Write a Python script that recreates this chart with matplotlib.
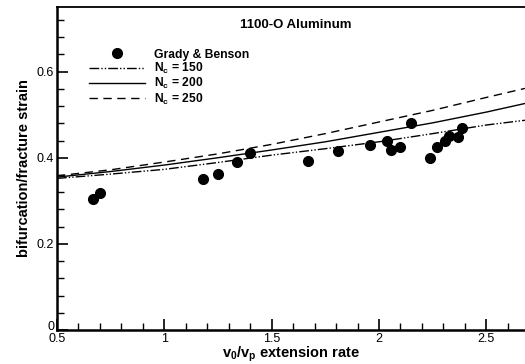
import matplotlib
matplotlib.use('Agg')
import matplotlib.pyplot as plt
from matplotlib.ticker import MultipleLocator

plt.rcParams['font.family'] = ['Liberation Sans', 'DejaVu Sans']
plt.rcParams['mathtext.fontset'] = 'custom'
plt.rcParams['mathtext.rm'] = 'Liberation Sans'
plt.rcParams['mathtext.bf'] = 'Liberation Sans:bold'

# Grady & Benson data
exp_x = [0.669, 0.700, 1.179, 1.249, 1.339, 1.398, 1.667, 1.809, 1.958, 2.037,
         2.057, 2.098, 2.149, 2.239, 2.268, 2.307, 2.327, 2.369, 2.388]
exp_y = [0.305, 0.317, 0.351, 0.362, 0.390, 0.410, 0.392, 0.415, 0.429, 0.439,
         0.419, 0.424, 0.480, 0.399, 0.426, 0.440, 0.450, 0.448, 0.469]

# model curves
curve_x = [0.5, 0.75, 1.0, 1.25, 1.5, 1.75, 2.0, 2.25, 2.5, 2.68]
nc150 = [0.352, 0.362, 0.373, 0.389, 0.406, 0.421, 0.437, 0.456, 0.476, 0.487]
nc200 = [0.355, 0.368, 0.383, 0.400, 0.418, 0.437, 0.459, 0.481, 0.506, 0.526]
nc250 = [0.358, 0.372, 0.390, 0.409, 0.431, 0.456, 0.483, 0.510, 0.540, 0.561]

fig = plt.figure(figsize=(5.25, 3.64), dpi=100)
ax = fig.add_axes([57/525, 34/364, 468/525, 323/364])

ax.plot(exp_x, exp_y, 'o', color='black', markersize=7, label='Grady & Benson', clip_on=False)
ax.plot(curve_x, nc150, color='black', lw=1, linestyle=(0, (7, 1.5, 1, 1.5, 1, 1.5)),
        label=r'$\mathbf{N_c}$ = 150')
ax.plot(curve_x, nc200, color='black', lw=1, linestyle='-', label=r'$\mathbf{N_c}$ = 200')
ax.plot(curve_x, nc250, color='black', lw=1, linestyle=(0, (6, 4)), label=r'$\mathbf{N_c}$ = 250')

ax.set_xlim(0.5, 2.68)
ax.set_ylim(0, 0.75)
ax.xaxis.set_minor_locator(MultipleLocator(0.1))
ax.yaxis.set_minor_locator(MultipleLocator(0.04))
ax.set_xticks([0.5, 1, 1.5, 2, 2.5])
ax.set_xticklabels(['0.5', '1', '1.5', '2', '2.5'])
ax.set_yticks([0, 0.2, 0.4, 0.6])
ax.set_yticklabels(['0', '0.2', '0.4', '0.6'])
ax.get_yticklabels()[0].set_verticalalignment('baseline')

ax.tick_params(which='major', direction='in', length=8, width=1.2, labelsize=9, pad=2)
ax.tick_params(which='minor', direction='in', length=5, width=1)
ax.spines['right'].set_visible(False)
for s in ['left', 'bottom']:
    ax.spines[s].set_linewidth(1.8)
ax.spines['top'].set_linewidth(1.3)

ax.set_xlabel(r'$\mathbf{v_0/v_p}$ extension rate', fontsize=10.5, fontweight='bold', labelpad=0)
ax.set_ylabel('bifurcation/fracture strain', fontsize=10.5, fontweight='bold', labelpad=4)

ax.text(0.51, 0.944, '1100-O Aluminum', transform=ax.transAxes, fontsize=9.5,
        fontweight='bold', ha='center', va='center')

leg = ax.legend(loc='upper left', bbox_to_anchor=(0.045, 0.905), frameon=False,
                handlelength=4.6, handletextpad=0.8, labelspacing=0.02,
                prop={'weight': 'bold', 'size': 8.7})

fig.savefig('out.png', dpi=100)
